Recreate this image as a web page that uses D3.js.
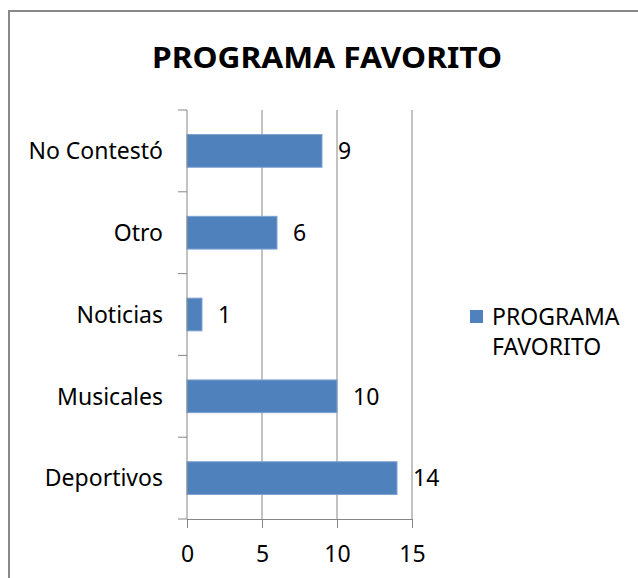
<!DOCTYPE html>
<html>
<head>
<meta charset="utf-8">
<script src="https://cdn.jsdelivr.net/npm/d3@7"></script>
<style>
  body { margin: 0; background: #fff; }
  text { font-family: "Noto Sans", "Open Sans", sans-serif; fill: #000; }
</style>
</head>
<body>
<svg id="chart"></svg>
<script>
var categories = ["No Contestó", "Otro", "Noticias", "Musicales", "Deportivos"];
var values = [9, 6, 1, 10, 14];
var xTicks = [0, 5, 10, 15];
var chartTitle = "PROGRAMA FAVORITO";
var legendLines = ["PROGRAMA", "FAVORITO"];

var width = 638, height = 578;
var margin = {left: 187, right: 226, top: 110, bottom: 59};
var plotW = width - margin.left - margin.right;
var plotH = height - margin.top - margin.bottom;
var barColor = "#4f81bd";
var axisColor = "#868686";

var svg = d3.select("#chart")
  .attr("width", width)
  .attr("height", height);

// outer chart border (right and bottom edges run off the picture)
svg.append("path")
  .attr("d", "M9,578 V11 H638")
  .attr("fill", "none")
  .attr("stroke", "#888")
  .attr("stroke-width", 2);

svg.append("text")
  .attr("x", 327)
  .attr("y", 68)
  .attr("text-anchor", "middle")
  .style("font-size", "28px")
  .style("font-weight", "bold")
  .attr("textLength", 350)
  .attr("lengthAdjust", "spacingAndGlyphs")
  .text(chartTitle);

var x = d3.scaleLinear().domain([0, 15]).range([0, plotW]);
var y = d3.scaleBand().domain(categories).range([0, plotH]).paddingInner(0.6).paddingOuter(0.3);

var g = svg.append("g")
  .attr("transform", "translate(" + margin.left + "," + margin.top + ")");

// vertical gridlines
g.selectAll("line.grid")
  .data(xTicks.slice(1))
  .enter().append("line")
  .attr("class", "grid")
  .attr("x1", function(d){ return x(d); })
  .attr("x2", function(d){ return x(d); })
  .attr("y1", 0)
  .attr("y2", plotH)
  .attr("stroke", axisColor)
  .attr("stroke-width", 1);

// bars
g.selectAll("rect.bar")
  .data(values)
  .enter().append("rect")
  .attr("class", "bar")
  .attr("x", 0)
  .attr("y", function(d, i){ return y(categories[i]); })
  .attr("width", function(d){ return x(d); })
  .attr("height", y.bandwidth())
  .attr("fill", barColor)
  .attr("stroke", "#7ea3d2")
  .attr("stroke-width", 1);

// value labels
g.selectAll("text.val")
  .data(values)
  .enter().append("text")
  .attr("class", "val")
  .attr("x", function(d){ return x(d) + 16; })
  .attr("y", function(d, i){ return y(categories[i]) + y.bandwidth() / 2; })
  .attr("dy", "0.36em")
  .style("font-size", "23px")
  .text(function(d){ return d; });

// x axis
var xAxis = d3.axisBottom(x).tickValues(xTicks).tickSize(9).tickPadding(18);
var gx = g.append("g")
  .attr("transform", "translate(0," + plotH + ")")
  .call(xAxis);
gx.selectAll("text").style("font-size", "23px").style("font-family", "'Noto Sans', sans-serif");

// y axis: ticks between the categories
var step = plotH / categories.length;
var yTickPos = d3.range(categories.length + 1).map(function(i){ return i * step; });
var gy = g.append("g");
gy.append("line")
  .attr("x1", 0).attr("x2", 0)
  .attr("y1", 0).attr("y2", plotH)
  .attr("stroke", axisColor);
gy.selectAll("line.tk")
  .data(yTickPos)
  .enter().append("line")
  .attr("class", "tk")
  .attr("x1", -9).attr("x2", 0)
  .attr("y1", function(d){ return d; })
  .attr("y2", function(d){ return d; })
  .attr("stroke", axisColor);
gy.selectAll("text")
  .data(categories)
  .enter().append("text")
  .attr("x", -24)
  .attr("y", function(d){ return y(d) + y.bandwidth() / 2; })
  .attr("dy", "0.36em")
  .attr("text-anchor", "end")
  .style("font-size", "23px")
  .text(function(d){ return d; });

gx.selectAll("line, path").attr("stroke", axisColor);

// legend
var lg = svg.append("g").attr("transform", "translate(470,310)");
lg.append("rect")
  .attr("width", 13).attr("height", 13)
  .attr("fill", barColor);
lg.selectAll("text")
  .data(legendLines)
  .enter().append("text")
  .attr("x", 22)
  .attr("y", function(d, i){ return 15 + i * 30; })
  .style("font-size", "23px")
  .text(function(d){ return d; });
</script>
</body>
</html>
